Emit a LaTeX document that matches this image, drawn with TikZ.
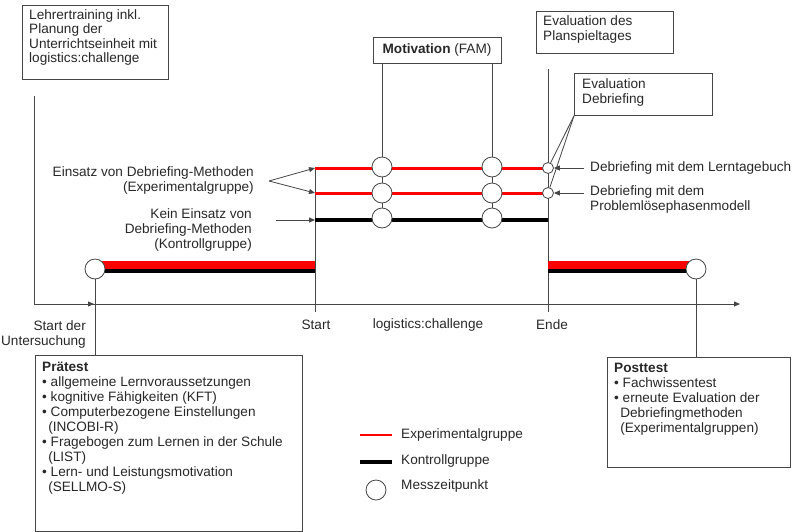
\documentclass[tikz,border=0pt]{standalone}
\usepackage{fontspec}
\setmainfont{Liberation Sans}
\usetikzlibrary{arrows.meta}
\definecolor{myred}{RGB}{255,0,0}
\definecolor{txt}{RGB}{40,40,40}
\definecolor{ln}{RGB}{70,70,70}
\begin{document}
\begin{tikzpicture}[x=1pt,y=-1pt,
  every node/.style={font=\fontsize{13.6}{15}\selectfont, text=txt, inner sep=0pt},
  boxrect/.style={draw=ln, line width=0.8pt, fill=white, inner sep=0pt, anchor=north west},
  thin/.style={draw=ln, line width=0.8pt},
  tip/.style={thin, -{Triangle[length=6pt,width=5pt]}},
  mp/.style={circle, draw=ln, line width=0.8pt, fill=white, minimum size=20pt, inner sep=0pt},
  smp/.style={circle, draw=ln, line width=0.8pt, fill=white, minimum size=11pt, inner sep=0pt},
  redline/.style={draw=myred, line width=3pt},
  blackline/.style={draw=black, line width=3.5pt},
]
\useasboundingbox (0,0) rectangle (792,531);

% ---------- top left box
\node[boxrect, minimum width=146pt, minimum height=74pt] (lt) at (22,5) {};
\node[anchor=north west, align=left, font=\fontsize{13.6}{14.6}\selectfont] (ltt) at (29,9) {Lehrertraining inkl.\\Planung der\\Unterrichtseinheit mit\\logistics:challenge};

% ---------- axes
\coordinate (ytop) at (34,96);
\coordinate (org) at (34,304);
\coordinate (axend) at (740,304);
\coordinate (s0ax) at (94,304);
\draw[thin] (ytop) -- (org);
\draw[tip] (org) -- (axend);
\draw[tip] (org) -- (s0ax);

% ---------- Start / Ende vertical lines
\coordinate (st1) at (315,168);
\coordinate (st2) at (315,193);
\coordinate (st3) at (315,220);
\coordinate (stb) at (315,312);
\coordinate (en0) at (548,69);
\coordinate (en3) at (548,220);
\coordinate (enb) at (548,312);
\draw[thin] (st1) -- (stb);
\draw[thin] (en0) -- (enb);

% ---------- thick pre / post bars
\coordinate (pa1) at (95,265);
\coordinate (pa2) at (315,265);
\coordinate (pb1) at (95,271);
\coordinate (pb2) at (315,271);
\draw[draw=black, line width=4pt] (pb1) -- (pb2);
\draw[draw=myred, line width=8pt] (pa1) -- (pa2);
\coordinate (qa1) at (548,265);
\coordinate (qa2) at (696,265);
\coordinate (qb1) at (548,271);
\coordinate (qb2) at (696,271);
\draw[draw=black, line width=4pt] (qb1) -- (qb2);
\draw[draw=myred, line width=8pt] (qa1) -- (qa2);

% ---------- Pre / post boxes
\node[boxrect, minimum width=267pt, minimum height=176pt] (pre) at (35,355) {};
\node[anchor=north west, align=left] (pret) at (42,362) {\textbf{Prätest}\\
• allgemeine Lernvoraussetzungen\\
• kognitive Fähigkeiten (KFT)\\
• Computerbezogene Einstellungen\\
\hspace*{0.45em}(INCOBI-R)\\
• Fragebogen zum Lernen in der Schule\\
\hspace*{0.45em}(LIST)\\
• Lern- und Leistungsmotivation\\
\hspace*{0.45em}(SELLMO-S)};
\node[boxrect, minimum width=183pt, minimum height=110pt] (post) at (607,357) {};
\node[anchor=north west, align=left] (postt) at (614,363) {\textbf{Posttest}\\
• Fachwissentest\\
• erneute Evaluation der\\
\hspace*{0.45em}Debriefingmethoden\\
\hspace*{0.45em}(Experimentalgruppen)};

\node[mp] (s0) at (95,269) {};
\node[mp] (e0) at (696,269) {};
\draw[thin] (s0) -- (s0|-pre.north);
\draw[thin] (e0) -- (e0|-post.north);

% ---------- group lines
\coordinate (en1) at (548,168);
\coordinate (en2) at (548,193);
\draw[redline] (st1) -- (en1);
\draw[redline] (st2) -- (en2);
\draw[blackline] (st3) -- (en3);

% ---------- Motivation box and measurement points
\node[draw=ln, line width=0.8pt, fill=white, minimum width=128pt, minimum height=26pt, inner sep=0pt] (mot) at (437,50) {\textbf{Motivation} (FAM)};
\coordinate (m1) at (382,63);
\coordinate (m2) at (492,63);
\draw[thin] (m1) -- (382,219);
\draw[thin] (m2) -- (492,219);
\node[mp] (a1) at (382,167) {};
\node[mp] (a2) at (382,193) {};
\node[mp] (a3) at (382,218) {};
\node[mp] (b1) at (492,167) {};
\node[mp] (b2) at (492,193) {};
\node[mp] (b3) at (492,218) {};

% ---------- Evaluation boxes
\node[boxrect, minimum width=137pt, minimum height=42pt] (evp) at (536,11) {};
\node[anchor=north west, align=left] (evpt) at (543,15) {Evaluation des\\Planspieltages};
\node[boxrect, minimum width=138pt, minimum height=42pt] (evd) at (574,73) {};
\node[anchor=north west, align=left] (evdt) at (582,78) {Evaluation\\Debriefing};

\node[smp] (c1) at (548,168) {};
\node[smp] (c2) at (548,193) {};
\draw[thin] (evd.south west) -- (c1);
\draw[thin] (evd.south west) -- (c2);

\node[anchor=west] (d1) at (590,168) {Debriefing mit dem Lerntagebuch};
\node[anchor=north west, align=left] (d2) at (590,185) {Debriefing mit dem\\Problemlösephasenmodell};
\coordinate (d1a) at (584,168);
\coordinate (d2a) at (584,193);
\draw[tip] (d1a) -- (c1);
\draw[tip] (d2a) -- (c2);

% ---------- left labels
\node[anchor=east, align=right] (ex) at (254,180) {Einsatz von Debriefing-Methoden\\(Experimentalgruppe)};
\node[anchor=east, align=right] (ko) at (252,230) {Kein Einsatz von\\Debriefing-Methoden\\(Kontrollgruppe)};
\coordinate (exa) at (269,181);
\coordinate (koa) at (276,220);
\draw[tip] (exa) -- (st1);
\draw[tip] (exa) -- (st2);
\draw[tip] (koa) -- (st3);

% ---------- axis labels
\node[anchor=east, align=right] (sdu) at (86,334) {Start der\\Untersuchung};
\node (stl) at (316,325) {Start};
\node (lcl) at (428,325) {logistics:challenge};
\node (enl) at (552,325) {Ende};

% ---------- legend
\coordinate (l1a) at (360,435);
\coordinate (l1b) at (392,435);
\coordinate (l2a) at (360,462);
\coordinate (l2b) at (392,462);
\draw[draw=myred, line width=2.5pt] (l1a) -- (l1b);
\draw[draw=black, line width=3.5pt] (l2a) -- (l2b);
\node[mp] (l3) at (376,490) {};
\node[anchor=west] (lg1) at (401,435) {Experimentalgruppe};
\node[anchor=west] (lg2) at (401,461) {Kontrollgruppe};
\node[anchor=west] (lg3) at (401,486) {Messzeitpunkt};
\end{tikzpicture}
\end{document}
